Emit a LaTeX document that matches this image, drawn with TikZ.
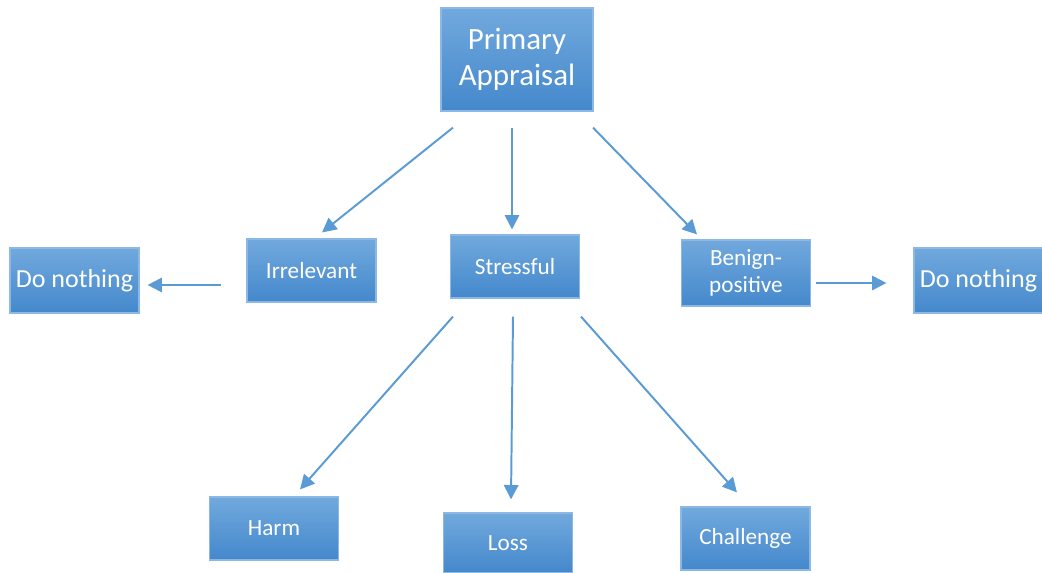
\documentclass[tikz,border=0pt]{standalone}
\usepackage{fontspec}
\setmainfont{Carlito}
\usetikzlibrary{arrows.meta}

\definecolor{boxtop}{RGB}{113,169,221}
\definecolor{boxbot}{RGB}{68,136,204}
\definecolor{boxedge}{RGB}{140,184,230}
\definecolor{arrowblue}{RGB}{91,155,213}

\begin{document}
\begin{tikzpicture}[
  x=0.025cm,
  y=-0.025cm, % <-- one unit is one pixel of the reference, y going down
  >={Triangle[length=0.36cm,width=0.36cm]},
  every node/.style={font=\fontsize{16.5}{19}\selectfont, text=white, align=center},
  box/.style={draw=boxedge, line width=0.8pt, top color=boxtop, bottom color=boxbot,
    minimum width=3.225cm, minimum height=1.575cm, inner sep=0pt},
  link/.style={->, draw=arrowblue, line width=1.4pt}
]

\useasboundingbox (0,0) rectangle (1042,573);

% Top level
\node[box, minimum width=3.8cm, minimum height=2.575cm,
  font=\fontsize{22}{26}\selectfont] (prim) at (517,59.5) {Primary\\Appraisal};

% Middle row
\node[box] (irr) at (311.5,270.5) {Irrelevant};
\node[box] (str) at (515,266.5) {Stressful};
\node[box, minimum height=1.65cm] (ben) at (746,273) {Benign-\\positive};
\node[box, minimum height=1.625cm, font=\fontsize{18.5}{22}\selectfont] (dnl) at (74.5,280.5) {Do nothing};
\node[box, minimum height=1.625cm, font=\fontsize{18.5}{22}\selectfont] (dnr) at (978.5,280.5) {Do nothing};

% Bottom row
\node[box] (harm) at (274,528.5) {Harm};
\node[box, minimum height=1.5cm] (loss) at (508,543) {Loss};
\node[box] (chal) at (745.5,538.5) {Challenge};

% --- Arrows ---
\draw[link] ([shift={(-64,16)}]prim.south) -- ([shift={(10.5,-6)}]irr.north);
\draw[link] ([shift={(-5,16)}]prim.south) -- ([shift={(-3,-5)}]str.north);
\draw[link] ([shift={(76,16)}]prim.south) -- ([shift={(-49,-5)}]ben.north);
\draw[link] ([shift={(-25,14.5)}]irr.west) -- ([shift={(8,4.5)}]dnl.east);
\draw[link] ([shift={(5,10)}]ben.east) -- ([shift={(-27,2.5)}]dnr.west);
\draw[link] ([shift={(-62,18)}]str.south) -- ([shift={(26,-7)}]harm.north);
\draw[link] ([shift={(-2,18)}]str.south) -- ([shift={(3,-13)}]loss.north);
\draw[link] ([shift={(66,18)}]str.south) -- ([shift={(-8.5,-14)}]chal.north);

\end{tikzpicture}
\end{document}
